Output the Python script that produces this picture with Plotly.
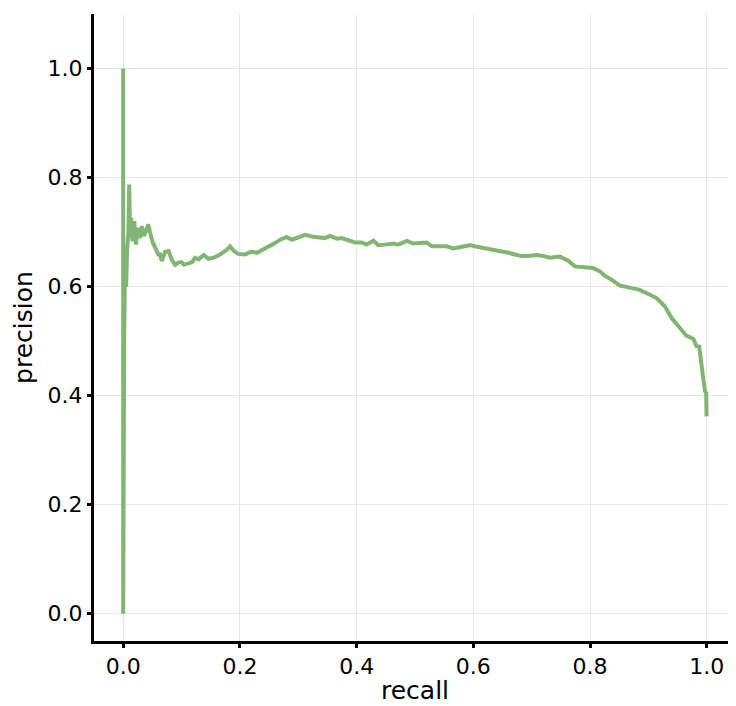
import plotly.graph_objects as go

recall = [0.0, 0.0, 0.0017, 0.0034, 0.005, 0.0067, 0.0075, 0.0090, 0.0103, 0.0120, 0.0137, 0.016,
          0.019, 0.022, 0.025, 0.029, 0.032, 0.036, 0.040, 0.043, 0.046, 0.050, 0.055, 0.060, 0.0634,
          0.066, 0.072, 0.078, 0.083, 0.089, 0.094, 0.100, 0.104, 0.109, 0.118, 0.123, 0.129, 0.138,
          0.146, 0.155, 0.166, 0.178, 0.183, 0.189, 0.197, 0.209, 0.220, 0.229, 0.240, 0.257, 0.269,
          0.280, 0.289, 0.300, 0.312, 0.323, 0.337, 0.346, 0.354, 0.366, 0.374, 0.386, 0.397, 0.409,
          0.417, 0.429, 0.437, 0.449, 0.463, 0.471, 0.486, 0.497, 0.511, 0.520, 0.529, 0.543, 0.554,
          0.566, 0.580, 0.594, 0.606, 0.617, 0.631, 0.648, 0.660, 0.671, 0.683, 0.694, 0.708, 0.720,
          0.731, 0.748, 0.762, 0.774, 0.790, 0.805, 0.817, 0.825, 0.838, 0.851, 0.860, 0.868, 0.877,
          0.885, 0.899, 0.914, 0.928, 0.940, 0.954, 0.965, 0.977, 0.982, 0.987, 0.991, 0.994, 0.997,
          0.999, 0.9995]
precision = [1.0, 0.0, 0.5, 0.667, 0.6, 0.667, 0.683, 0.70, 0.787, 0.69, 0.726, 0.683,
             0.72, 0.677, 0.708, 0.689, 0.711, 0.693, 0.705, 0.714, 0.699, 0.683, 0.671, 0.659, 0.659,
             0.647, 0.664, 0.665, 0.650, 0.640, 0.644, 0.645, 0.640, 0.642, 0.645, 0.653, 0.650, 0.658,
             0.651, 0.653, 0.659, 0.668, 0.674, 0.666, 0.660, 0.659, 0.664, 0.662, 0.668, 0.678, 0.686,
             0.691, 0.686, 0.691, 0.695, 0.692, 0.691, 0.689, 0.693, 0.688, 0.689, 0.685, 0.681, 0.681,
             0.677, 0.684, 0.676, 0.677, 0.679, 0.677, 0.684, 0.679, 0.681, 0.681, 0.674, 0.673, 0.674,
             0.670, 0.673, 0.676, 0.673, 0.671, 0.668, 0.665, 0.662, 0.659, 0.656, 0.656, 0.658, 0.656,
             0.653, 0.655, 0.648, 0.637, 0.636, 0.634, 0.628, 0.620, 0.612, 0.602, 0.600, 0.598, 0.596,
             0.594, 0.587, 0.579, 0.564, 0.542, 0.524, 0.510, 0.504, 0.491, 0.490, 0.448, 0.430, 0.408,
             0.405, 0.362]

x_ticks = [0.0, 0.2, 0.4, 0.6, 0.8, 1.0]
y_ticks = [0.0, 0.2, 0.4, 0.6, 0.8, 1.0]

fig = go.Figure()
fig.add_trace(go.Scatter(x=recall, y=precision, mode="lines",
                         line=dict(color="#82b474", width=4), showlegend=False))

axis_common = dict(showline=True, linecolor="black", linewidth=3, ticks="outside",
                   ticklen=4, tickwidth=3, tickcolor="black", showgrid=True,
                   gridcolor="#e8e8e8", gridwidth=1, zeroline=False, mirror=False,
                   tickfont=dict(size=22, color="black"))
fig.update_xaxes(range=[-0.05, 1.05], tickvals=x_ticks, ticktext=[f"{v:.1f}" for v in x_ticks],
                 title=dict(text="recall", font=dict(size=25, color="black"), standoff=4), **axis_common)
fig.update_yaxes(range=[-0.05, 1.1], tickvals=y_ticks, ticktext=[f"{v:.1f}" for v in y_ticks],
                 title=dict(text="precision", font=dict(size=25, color="black"), standoff=8), **axis_common)
fig.update_layout(width=728, height=698, margin=dict(l=86, r=0, t=6, b=65, autoexpand=False),
                  paper_bgcolor="white", plot_bgcolor="white",
                  font=dict(family="DejaVu Sans", color="black"))
fig.write_html("out.html")
